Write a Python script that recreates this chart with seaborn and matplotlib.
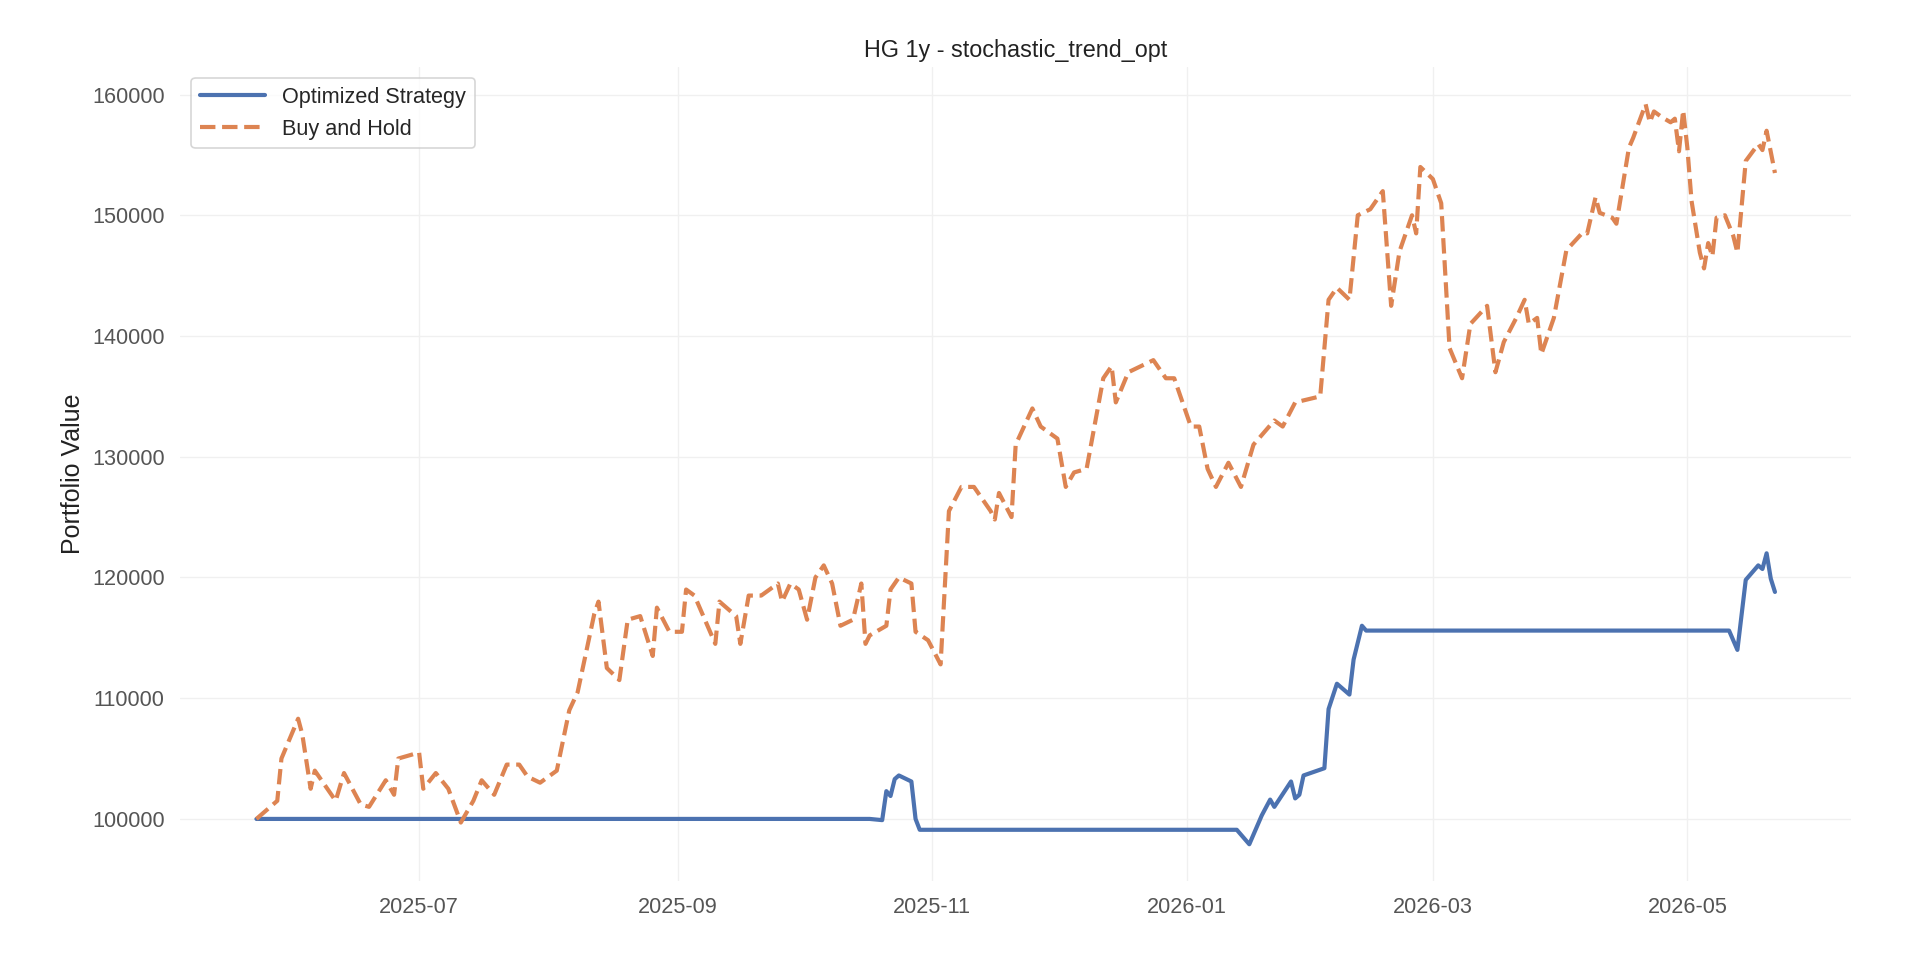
import matplotlib
matplotlib.use("Agg")
import matplotlib.pyplot as plt
import matplotlib.dates as mdates
import seaborn as sns
import pandas as pd
import numpy as np

start_date = "2025-05-23"

bh_days = [0,5,6,10,11,13,14,19,21,23,25,27,31,33,34,39,40,43,46,49,52,54,57,60,63,65,68,72,75,77,81,82,84,87,89,92,95,96,99,102,103,105,110,111,115,116,118,121,125,126,128,130,132,134,136,138,140,143,145,146,147,151,152,154,157,158,161,164,166,169,172,174,176,177,178,181,182,186,188,192,194,196,199,203,205,206,209,215,218,220,224,226,228,230,233,236,239,244,246,249,255,257,259,262,264,267,270,272,274,277,278,279,282,284,286,289,291,295,297,299,302,304,305,307,308,311,314,318,319,321,322,325,326,329,330,333,334,335,337,339,340,341,342,343,344,346,347,348,349,350,352,354,355,357,360,361,362,364]
bh_vals = [100000,101500,105000,108300,107000,102500,104000,101500,103800,102500,101200,101000,103200,102000,105000,105500,102500,103800,102500,99700,101500,103200,102000,104500,104500,103500,103000,104000,109000,110500,117000,118000,112500,111500,116500,116800,113500,117500,115500,115500,119000,118500,114500,118000,116800,114500,118500,118500,119500,118000,119500,119000,116500,120000,121000,119500,116000,116500,119500,114500,115200,116000,119000,120000,119500,115500,114800,112800,125500,127500,127500,126500,125500,124800,127000,125000,131000,134000,132500,131500,127500,128700,129000,136500,137500,134500,137000,138000,136500,136500,132500,132500,129000,127500,129500,127500,131000,133000,132500,134500,135000,143000,144000,143000,150000,150500,152000,142500,147000,150000,148500,154000,153000,151000,139000,136500,141000,142500,137000,139500,141500,143000,141000,141500,138500,141500,147100,148600,148500,151500,150200,149800,149300,155600,156400,159200,157700,158600,158100,157700,158000,155300,158700,155600,151200,146900,145600,147700,146600,149800,150000,148300,146900,154500,155900,155400,157000,153500]

opt_days = [0,147,150,151,152,153,154,157,158,159,235,238,241,243,244,248,249,250,251,256,257,259,262,263,265,266,353,355,357,360,361,362,363,364]
opt_vals = [100000,100000,99900,102300,101900,103300,103600,103100,100000,99100,99100,97900,100300,101600,101000,103100,101700,102000,103600,104200,109100,111200,110300,113200,116000,115600,115600,114000,119800,121000,120700,122000,119900,118800]

series_names = ["Optimized Strategy", "Buy and Hold"]

sns.set_theme(style="whitegrid")
plt.rcParams["font.family"] = ["Liberation Sans", "DejaVu Sans"]

t0 = pd.Timestamp(start_date)
df_opt = pd.DataFrame({"Date": t0 + pd.to_timedelta(opt_days, unit="D"), "Value": opt_vals})
df_bh = pd.DataFrame({"Date": t0 + pd.to_timedelta(bh_days, unit="D"), "Value": bh_vals})

fig, ax = plt.subplots(figsize=(16, 8), dpi=120)
pal = sns.color_palette("deep")
sns.lineplot(data=df_opt, x="Date", y="Value", ax=ax, color=pal[0], linewidth=2.5, label=series_names[0])
sns.lineplot(data=df_bh, x="Date", y="Value", ax=ax, color=pal[1], linewidth=2.5, linestyle="--", label=series_names[1])

ax.set_title("HG 1y - stochastic_trend_opt", fontsize=14, color="#222222")
ax.set_ylabel("Portfolio Value", fontsize=15, color="#222222")
ax.set_xlabel("")
ax.xaxis.set_major_locator(mdates.MonthLocator(bymonth=[1, 3, 5, 7, 9, 11]))
ax.xaxis.set_major_formatter(mdates.DateFormatter("%Y-%m"))
ax.set_yticks([100000, 110000, 120000, 130000, 140000, 150000, 160000])
ax.tick_params(axis="both", labelsize=13, colors="#555555")
ax.grid(color="#f0f0f0", linewidth=0.8)
for s in ax.spines.values():
    s.set_visible(False)
leg = ax.legend(loc="upper left", fontsize=13, frameon=True, handlelength=3)
leg.get_frame().set_edgecolor("#cccccc")
fig.subplots_adjust(left=0.094, right=0.964, top=0.93, bottom=0.082)
fig.savefig("out.png", dpi=120)
